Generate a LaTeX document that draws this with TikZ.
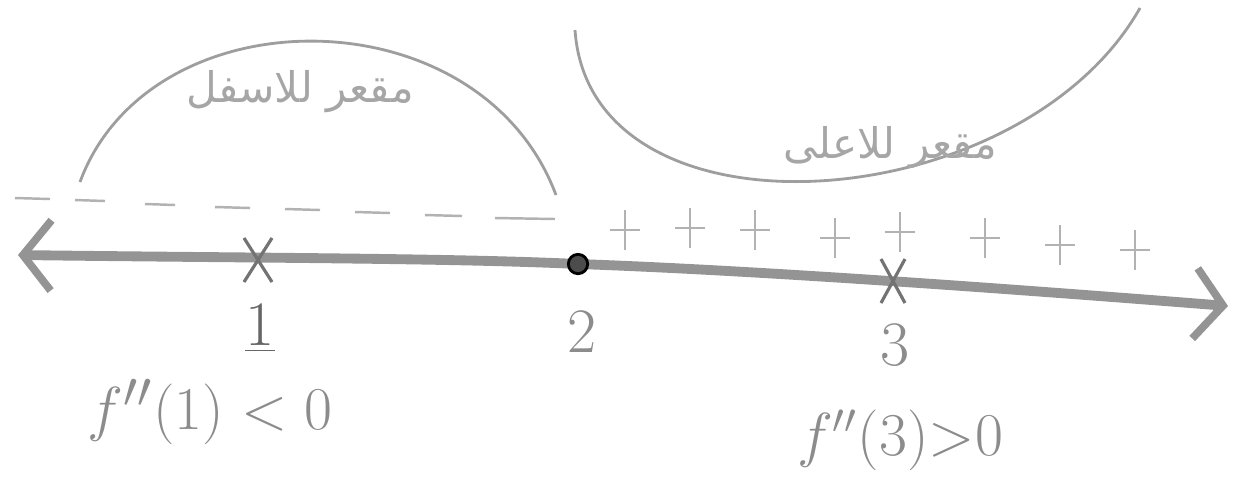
\documentclass[tikz,border=0pt]{standalone}
\usepackage{fontspec}
\newfontfamily\arabicfont[Script=Arabic]{DejaVu Sans}
\TeXXeTstate=1
\usetikzlibrary{arrows.meta}
\tikzset{
  axisline/.style={line width=2.8pt, draw=black!42, line cap=round},
  signmark/.style={draw=black!30, line width=0.7pt},
  curveline/.style={draw=black!38, line width=0.8pt},
  crossmark/.style={draw=black!55, line width=0.9pt},
  lbl/.style={text=black!45, font=\fontsize{18}{18}\selectfont},
  arlbl/.style={text=black!35, font=\arabicfont\fontsize{12}{12}\selectfont}
}
\begin{document}
\begin{tikzpicture}[x=0.01cm, y=-0.01cm, >={Straight Barb[length=8pt,width=20pt,line width=2.2pt]}]
  \useasboundingbox (0,0) rectangle (1251,490);
  \coordinate (la) at (18,255);
  \coordinate (ra) at (1228,306);
  \coordinate (c2) at (578,264);
  \node[inner sep=0pt] (p1) at (258,260) {};
  \node[inner sep=0pt] (p3) at (893,281) {};
  % axis
  \draw[axisline, <->] (la) .. controls (250,258) and (450,258) .. (c2)
     .. controls (750,270) and (1000,288) .. (ra);
  \node[circle, fill=black!70, draw=black, line width=0.8pt, minimum size=5.5pt, inner sep=0pt] (p2) at (c2) {};
  % crosses
  \draw[crossmark] ([shift={(-14,-22)}]p1.center) -- ([shift={(14,22)}]p1.center)
                   ([shift={(14,-22)}]p1.center) -- ([shift={(-14,22)}]p1.center);
  \draw[crossmark] ([shift={(-12,-22)}]p3.center) -- ([shift={(12,22)}]p3.center)
                   ([shift={(12,-22)}]p3.center) -- ([shift={(-12,22)}]p3.center);
  % point labels
  \node[lbl, text=black!60] (n1) at (260,328) {\underline{1}};
  \node[lbl] (n2) at (582,332) {2};
  \node[lbl] (n3) at (895,345) {3};
  \node[lbl, font=\fontsize{19}{19}\selectfont] (d1) at (210,412) {$f''(1)<0$};
  \node[lbl, font=\fontsize{18}{18}\selectfont] (d3) at (900,440) {$f''(3){>}0$};
  % signs
  \foreach \xa/\xb/\ya in {15/50/198, 75/105/200, 145/175/204, 215/250/207,
                           285/320/209, 355/390/212, 425/462/215, 495/555/218}
    \draw[signmark] (\xa,\ya) -- (\xb,\ya+1);
  \foreach \xa/\ya in {625/230, 690/228, 755/230, 835/238, 900/232,
                       985/238, 1060/245, 1135/250}
    \draw[signmark] (\xa-15,\ya) -- (\xa+15,\ya) (\xa,\ya-20) -- (\xa,\ya+20);
  % concavity arcs
  \coordinate (a1) at (80,182);
  \coordinate (a2) at (556,195);
  \draw[curveline] (a1) .. controls (150,-8) and (480,-8) .. (a2);
  \coordinate (u1) at (575,30);
  \coordinate (u2) at (1140,8);
  \draw[curveline] (u1) .. controls (590,250) and (1020,220) .. (u2);
  \node[arlbl] (down) at (300,92) {\beginR مقعر للاسفل\endR};
  \node[arlbl] (up) at (890,148) {\beginR مقعر للاعلى\endR};
\end{tikzpicture}
\end{document}
